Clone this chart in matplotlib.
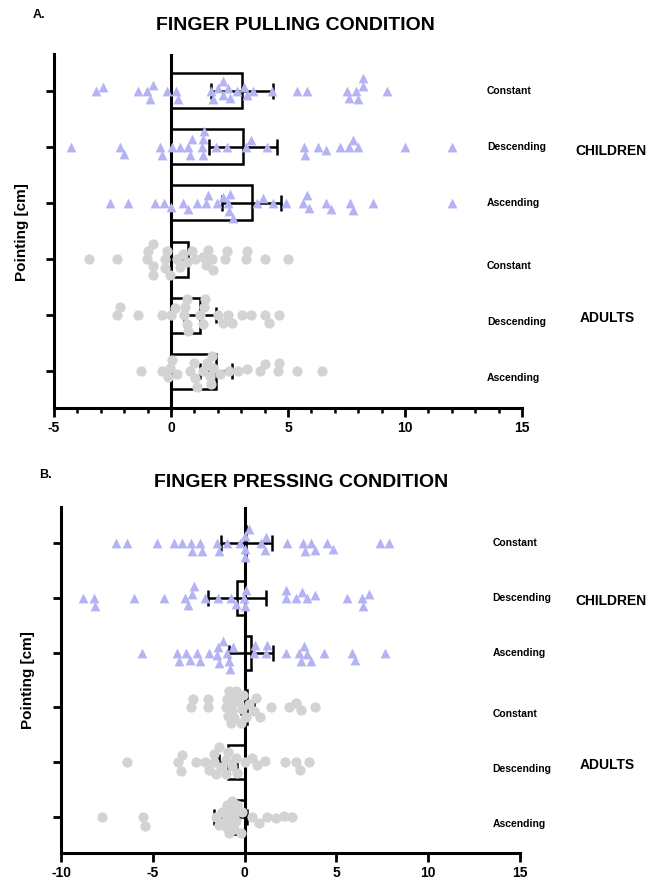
import numpy as np
import matplotlib.pyplot as plt
from matplotlib.ticker import MultipleLocator

plt.rcParams['font.family'] = ['Liberation Sans', 'DejaVu Sans']
plt.rcParams['font.weight'] = 'bold'
plt.rcParams['axes.unicode_minus'] = False

# --- data (cm), rows top to bottom ---
rows = ["Constant", "Descending", "Ascending", "Constant", "Descending", "Ascending"]

# A. finger pulling
pull_child_const = [-2.89, -3.2, -0.78, -0.9, -1.4, -1.01, -0.19, 0.21, 0.31, 2.02, 2.52, 3.23, 1.81, 2.42, 3.52,
                    1.7, 2.21, 2.81, 2.24, 3.12, 4.33, 5.37, 5.8, 8.0, 7.9, 7.5, 8.22, 7.62, 8.19, 9.22]
pull_child_desc = [-4.29, -2.18, -1.99, -0.4, -0.47, 0.03, 0.38, 0.74, 1.31, 1.38, 1.38, 0.81, 1.41, 0.88, 1.92,
                   2.41, 3.4, 3.2, 4.12, 5.73, 5.7, 6.62, 6.3, 7.22, 7.79, 8.0, 7.6, 10.0, 12.0]
pull_child_asc = [-2.6, -1.82, -0.68, -0.3, 0.0, 0.5, 0.71, 1.1, 1.5, 1.6, 1.95, 2.21, 2.45, 2.52, 2.49, 2.66,
                  3.66, 3.95, 4.37, 4.91, 5.66, 5.91, 5.8, 6.82, 6.62, 7.79, 7.65, 8.62, 12.0]
pull_adult_const = [-3.49, -2.29, -0.78, -0.97, -1.01, -0.75, -0.26, -0.19, -0.04, 0.24, 0.38, 0.53, 0.67, 0.88,
                    1.03, 1.38, 1.6, 1.74, 1.81, 1.5, -0.75, -0.26, 2.31, 2.38, 3.23, 3.2, 4.02, 5.01]
pull_adult_desc = [-2.18, -2.29, -1.4, -0.4, -0.01, 0.17, 0.56, 0.67, 0.74, 0.6, 0.67, 1.35, 1.41, 1.45, 1.24,
                   2.02, 2.21, 2.59, 2.45, 3.02, 3.4, 4.2, 4.02, 4.63]
pull_adult_asc = [-1.28, -0.4, -0.11, 0.03, -0.04, 0.24, 0.81, 1.03, 1.1, 0.98, 1.35, 1.52, 1.67, 1.74, 1.81, 1.7,
                  2.09, 2.49, 2.88, 3.23, 3.8, 4.02, 4.59, 4.63, 5.37, 6.44]
pull_means = [3.04, 3.08, 3.45, 0.72, 1.24, 1.93]
pull_errs = [1.33, 1.44, 1.25, 0.74, 0.68, 0.69]

# B. finger pressing
press_child_const = [-7.02, -6.39, -4.79, -3.85, -3.39, -2.85, -2.45, -2.9, -2.3, -1.49, -1.4, -0.98, -0.27, 0.02,
                     0.02, 0.24, 0.87, 1.09, 1.18, 2.32, 3.18, 3.63, 3.28, 3.83, 4.5, 4.81, 7.4, 7.86, 0.0]
press_child_desc = [-8.8, -8.17, -8.2, -6.03, -4.39, -3.25, -2.76, -2.85, -3.07, -2.16, -1.45, -0.76, -0.49, 0.02,
                    0.05, -0.04, 2.23, 2.27, 2.81, 3.41, 3.1, 3.83, 5.59, 6.41, 6.44, 6.8]
press_child_asc = [-5.57, -3.67, -3.21, -2.99, -3.58, -2.58, -2.43, -1.94, -1.4, -1.45, -0.85, -0.8, -1.52, -1.16,
                   -0.62, -0.94, 0.51, 0.56, 1.14, 1.23, 2.23, 2.96, 3.05, 3.41, 3.63, 3.23, 4.32, 6.04, 5.83, 7.64]
press_adult_const = [-2.94, -2.79, -2.0, -1.98, -1.03, -0.94, -0.85, -0.71, -0.64, -0.58, -0.49, -0.34, -0.22,
                     -0.09, 0.05, 0.24, 0.51, 0.6, 0.82, 1.42, 2.41, 2.81, 3.05, 3.83, -0.73, -0.89, -0.13, -0.67]
press_adult_desc = [-6.39, -3.61, -3.48, -3.39, -2.67, -2.16, -1.94, -1.67, -1.54, -1.4, -1.31, -1.03, -0.89, -0.67,
                    -0.49, -0.4, 0.02, 0.42, 0.69, 1.11, 2.2, 2.81, 3.0, 3.5, -1.67, -1.03]
press_adult_asc = [-7.79, -5.54, -5.43, -1.58, -1.4, -1.22, -1.03, -0.94, -0.85, -0.76, -0.67, -0.58, -0.49, -0.4,
                   -0.22, -0.13, -0.85, -0.67, -0.58, -0.94, -0.76, 0.42, 0.78, 1.23, 1.69, 2.14, 2.6]
press_means = [0.1, -0.41, 0.35, 0.15, -0.89, -0.76]
press_errs = [1.37, 1.59, 1.2, 0.35, 0.5, 0.9]

CHILD_COL = "#b4b4f4"
ADULT_COL = "#d3d3d3"
W, H = 651, 881


def swarm_offsets(xs, px_x, px_y, diam, cap=17):
    # beeswarm: nearest free slot within +-cap px, else the least crowded one
    xs = np.asarray(xs)
    out = np.zeros(len(xs))
    placed = []
    steps = np.arange(-cap, cap + 0.1, 0.5)
    for n, i in enumerate(np.argsort(xs)):
        # alternate which side wins a tie so the swarm stays balanced
        sgn = 1 if n % 2 else -1
        cands = sorted(steps, key=lambda c: (abs(c), sgn * c))
        xp = xs[i] * px_x
        best, best_d = 0.0, -1
        for c in cands:
            d = min([np.hypot(xp - a, c - b) for a, b in placed] + [1e9])
            if d >= diam:
                best = c
                break
            if d > best_d:
                best, best_d = c, d
        placed.append((xp, best))
        out[i] = best / px_y
    return out


def draw_panel(ax, groups, means, errs, xlim, minor):
    ax.set_xlim(*xlim)
    ax.set_ylim(5.65, -0.65)
    bbox = ax.get_position()
    px_x = bbox.width * W / (xlim[1] - xlim[0])
    px_y = bbox.height * H / 6.3
    ypos = np.arange(6)

    ax.barh(ypos, means, height=0.62, color="white", edgecolor="black", linewidth=1.8, zorder=1)
    ax.errorbar(means, ypos, xerr=errs, fmt="none", ecolor="black", elinewidth=1.8,
                capsize=6, capthick=1.8, zorder=2)
    ax.axvline(0, color="black", linewidth=2.2, zorder=2)

    for i, vals in enumerate(groups):
        if i < 3:
            off = swarm_offsets(vals, px_x, px_y, 8.0, cap=20)
            ax.scatter(vals, i + off, marker="^", s=50, color=CHILD_COL, linewidths=0, zorder=3)
        else:
            off = swarm_offsets(vals, px_x, px_y, 8.5, cap=16)
            ax.scatter(vals, i + off, marker="o", s=55, color=ADULT_COL, linewidths=0, zorder=3)

    for s in ["top", "right"]:
        ax.spines[s].set_visible(False)
    for s in ["left", "bottom"]:
        ax.spines[s].set_linewidth(2.2)

    ax.set_yticks(ypos)
    ax.set_yticklabels([])
    ax.tick_params(axis="y", length=6, width=2)
    ax.xaxis.set_major_locator(MultipleLocator(5))
    if minor:
        ax.xaxis.set_minor_locator(MultipleLocator(1))
        ax.tick_params(axis="x", which="minor", length=3.5, width=1.8)
    ax.tick_params(axis="x", which="major", length=6.5, width=2, labelsize=10, pad=3)
    for lab in ax.get_xticklabels():
        lab.set_fontweight("bold")

    tr = ax.get_yaxis_transform()
    x_lab = (487 - bbox.x0 * W) / (bbox.width * W) + (0.012 if not minor else 0)
    for i, name in enumerate(rows):
        ax.text(x_lab, i + (0.12 if i >= 3 else 0.0), name, transform=tr,
                fontsize=7.5, fontweight="bold", va="center", ha="left", clip_on=False)
    x_grp = (575 - bbox.x0 * W) / (bbox.width * W)
    ax.text(x_grp, 1.07, "CHILDREN", transform=tr, fontsize=10, fontweight="bold",
            va="center", ha="left", clip_on=False)
    ax.text(x_grp + 0.01, 4.05, "ADULTS", transform=tr, fontsize=10, fontweight="bold",
            va="center", ha="left", clip_on=False)


fig = plt.figure(figsize=(W / 100, H / 100), dpi=100)
axA = fig.add_axes([54 / W, 1 - 408 / H, 468 / W, 354 / H])
axB = fig.add_axes([61 / W, 1 - 853 / H, 459 / W, 346 / H])

draw_panel(axA, [pull_child_const, pull_child_desc, pull_child_asc,
                 pull_adult_const, pull_adult_desc, pull_adult_asc],
           pull_means, pull_errs, (-5, 15), True)
draw_panel(axB, [press_child_const, press_child_desc, press_child_asc,
                 press_adult_const, press_adult_desc, press_adult_asc],
           press_means, press_errs, (-10, 15), False)

fig.text(295 / W, 1 - 25 / H, "FINGER PULLING CONDITION", fontsize=14, fontweight="bold",
         ha="center", va="center")
fig.text(301 / W, 1 - 482 / H, "FINGER PRESSING CONDITION", fontsize=14, fontweight="bold",
         ha="center", va="center")
fig.text(33 / W, 1 - 15 / H, "A.", fontsize=9, fontweight="bold", ha="left", va="center")
fig.text(39 / W, 1 - 475 / H, "B.", fontsize=9, fontweight="bold", ha="left", va="center")
fig.text(22 / W, 1 - 232 / H, "Pointing [cm]", fontsize=11, fontweight="bold",
         rotation=90, ha="center", va="center")
fig.text(28 / W, 1 - 680 / H, "Pointing [cm]", fontsize=11, fontweight="bold",
         rotation=90, ha="center", va="center")

plt.savefig("out.png", dpi=100)
